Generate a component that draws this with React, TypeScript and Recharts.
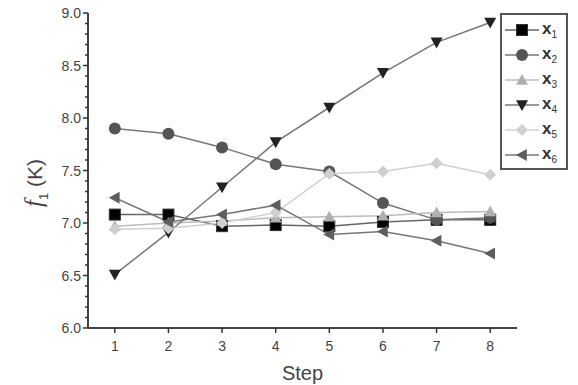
import { LineChart, Line, XAxis, YAxis, Label } from "recharts"

const steps = [1, 2, 3, 4, 5, 6, 7, 8]
const x1 = [7.08, 7.08, 6.97, 6.98, 6.97, 7.01, 7.03, 7.03]
const x2 = [7.9, 7.85, 7.72, 7.56, 7.49, 7.19, 7.03, 7.05]
const x3 = [6.97, 7.0, 7.02, 7.05, 7.06, 7.07, 7.1, 7.11]
const x4 = [6.51, 6.91, 7.34, 7.77, 8.1, 8.43, 8.72, 8.91]
const x5 = [6.94, 6.95, 7.0, 7.1, 7.47, 7.49, 7.57, 7.46]
const x6 = [7.24, 7.01, 7.08, 7.17, 6.89, 6.92, 6.83, 6.71]

const yTicks = Array.from({ length: 31 }, (_, i) => Math.round((6 + i * 0.1) * 10) / 10)
const xTicks = steps

const data = steps.map((s, i) => ({ step: s, x1: x1[i], x2: x2[i], x3: x3[i], x4: x4[i], x5: x5[i], x6: x6[i] }))

type Shape = "square" | "circle" | "up" | "down" | "diamond" | "left"

const series: { key: string; shape: Shape; fill: string; line: string }[] = [
  { key: "x1", shape: "square", fill: "#000000", line: "#666666" },
  { key: "x2", shape: "circle", fill: "#555555", line: "#777777" },
  { key: "x3", shape: "up", fill: "#b0b0b0", line: "#bbbbbb" },
  { key: "x4", shape: "down", fill: "#222222", line: "#777777" },
  { key: "x5", shape: "diamond", fill: "#cfcfcf", line: "#d0d0d0" },
  { key: "x6", shape: "left", fill: "#5e5e5e", line: "#777777" },
]

const font = "Liberation Sans, Arial, sans-serif"

const Marker = ({ cx, cy, shape, fill }: { cx: number; cy: number; shape: Shape; fill: string }) => {
  if (cx == null || cy == null) return null
  const r = 6
  switch (shape) {
    case "square":
      return <rect x={cx - 5.5} y={cy - 5.5} width={11} height={11} fill={fill} stroke="#333" strokeWidth={1} />
    case "circle":
      return <circle cx={cx} cy={cy} r={6} fill={fill} />
    case "up":
      return <polygon points={`${cx},${cy - r} ${cx + r},${cy + r * 0.8} ${cx - r},${cy + r * 0.8}`} fill={fill} />
    case "down":
      return <polygon points={`${cx},${cy + r} ${cx + r},${cy - r * 0.8} ${cx - r},${cy - r * 0.8}`} fill={fill} />
    case "diamond":
      return <polygon points={`${cx},${cy - r} ${cx + r},${cy} ${cx},${cy + r} ${cx - r},${cy}`} fill={fill} />
    case "left":
      return <polygon points={`${cx - r},${cy} ${cx + r * 0.8},${cy - r} ${cx + r * 0.8},${cy + r}`} fill={fill} />
  }
  return null
}

const YTick = (props: any) => {
  const { x, y, payload } = props
  const v = payload.value
  const major = Math.abs(v * 2 - Math.round(v * 2)) < 1e-6
  return (
    <g>
      <line x1={x - (major ? 5 : 3)} y1={y} x2={x} y2={y} stroke="#333" strokeWidth={1.5} />
      {major && (
        <text x={x - 7} y={y} dy={5} textAnchor="end" fontSize={14} fill="#444" fontFamily={font}>
          {v.toFixed(1)}
        </text>
      )}
    </g>
  )
}

const XTick = (props: any) => {
  const { x, y, payload } = props
  return (
    <g>
      <line x1={x} y1={y} x2={x} y2={y + 5} stroke="#333" strokeWidth={1.5} />
      <text x={x} y={y + 23} textAnchor="middle" fontSize={14} fill="#444" fontFamily={font}>
        {payload.value}
      </text>
    </g>
  )
}

const YLabel = () => (
  <text transform="translate(42,183) rotate(-90)" textAnchor="middle" fontSize={21} fill="#444" fontFamily={font}>
    <tspan fontStyle="italic" fontFamily="Liberation Serif, serif" fontSize={25}>f</tspan>
    <tspan fontSize={13} dy={6}>1</tspan>
    <tspan dy={-6}> (K)</tspan>
  </text>
)

const LegendBox = () => (
  <div
    style={{
      position: "absolute",
      left: 500,
      top: 13,
      border: "2px solid #555",
      background: "#fff",
      width: 64,
      padding: "2px 0 1px 0",
      fontFamily: font,
    }}
  >
    {series.map((s) => (
      <div key={s.key} style={{ display: "flex", alignItems: "center", height: 25 }}>
        <svg width={40} height={20}>
          <line x1={3} y1={10} x2={37} y2={10} stroke={s.line} strokeWidth={1.5} />
          <Marker cx={20} cy={10} shape={s.shape} fill={s.fill} />
        </svg>
        <span style={{ fontSize: 17, fontWeight: "bold", color: "#333" }}>
          x<sub style={{ fontSize: 10, fontWeight: "normal" }}>{s.key.slice(1)}</sub>
        </span>
      </div>
    ))}
  </div>
)

export default function App() {
  return (
    <div style={{ position: "absolute", left: 0, top: 0, width: 578, height: 385, background: "#fff" }}>
      <LineChart width={578} height={385} data={data} margin={{ top: 13, right: 61, bottom: 0, left: 0 }}>
        <XAxis
          dataKey="step"
          type="number"
          domain={[0.5, 8.5]}
          ticks={xTicks}
          interval={0}
          height={57}
          tickLine={false}
          tickSize={0}
          tickMargin={0}
          stroke="#444"
          strokeWidth={2}
          tick={<XTick />}
        >
          <Label value="Step" position="insideBottom" offset={5} fontSize={20} fill="#444" fontFamily={font} />
        </XAxis>
        <YAxis
          type="number"
          domain={[6, 9]}
          ticks={yTicks}
          interval={0}
          width={88}
          tickLine={false}
          tickSize={0}
          tickMargin={0}
          stroke="#444"
          strokeWidth={2}
          tick={<YTick />}
          allowDataOverflow
        >
          <Label content={<YLabel />} />
        </YAxis>
        {series.map((s) => (
          <Line
            key={s.key}
            dataKey={s.key}
            stroke={s.line}
            strokeWidth={1.5}
            isAnimationActive={false}
            dot={(p: any) => <Marker key={`${s.key}-${p.index}`} cx={p.cx} cy={p.cy} shape={s.shape} fill={s.fill} />}
            activeDot={false}
          />
        ))}
      </LineChart>
      <LegendBox />
    </div>
  )
}
